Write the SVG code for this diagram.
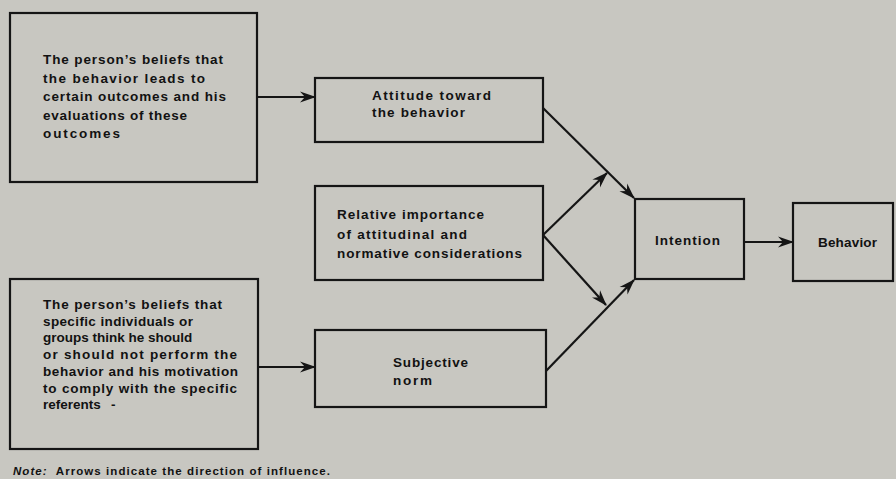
<svg xmlns="http://www.w3.org/2000/svg" width="896" height="479" viewBox="0 0 896 479">
<defs>
<style>
.box{fill:none;stroke:#151515;stroke-width:2.2}
.ln{fill:none;stroke:#151515;stroke-width:2.2}
.t{font-family:"Liberation Sans",Arial,sans-serif;font-weight:bold;font-size:13.5px;fill:#121212}
.note{font-family:"Liberation Sans",Arial,sans-serif;font-weight:bold;font-size:11.5px;fill:#121212}
</style>
<marker id="ah" viewBox="0 0 16 12" refX="15" refY="6" markerWidth="16" markerHeight="12" markerUnits="userSpaceOnUse" orient="auto">
<path d="M0,0.5 L16,6 L0,11.5 L5,6 Z" fill="#151515"/>
</marker>
</defs>
<rect width="896" height="479" fill="#c8c7c1"/>
<g id="beliefs-outcomes">
<rect class="box" x="10" y="13" width="247" height="169"/>
<text class="t" x="43" y="64" textLength="180" lengthAdjust="spacing">The person’s beliefs that</text>
<text class="t" x="43" y="82.5" textLength="162" lengthAdjust="spacing">the behavior leads to</text>
<text class="t" x="43" y="101" textLength="183" lengthAdjust="spacing">certain outcomes and his</text>
<text class="t" x="43" y="119.5" textLength="144" lengthAdjust="spacing">evaluations of these</text>
<text class="t" x="43" y="138" textLength="77" lengthAdjust="spacing">outcomes</text>
</g>
<g id="attitude">
<rect class="box" x="315" y="78" width="228" height="64"/>
<text class="t" x="372" y="100" textLength="119" lengthAdjust="spacing">Attitude toward</text>
<text class="t" x="372" y="117" textLength="93" lengthAdjust="spacing">the behavior</text>
</g>
<g id="relative-importance">
<rect class="box" x="315" y="186" width="228" height="94"/>
<text class="t" x="337" y="219" textLength="147" lengthAdjust="spacing">Relative importance</text>
<text class="t" x="337" y="239" textLength="130" lengthAdjust="spacing">of attitudinal and</text>
<text class="t" x="337" y="258" textLength="185" lengthAdjust="spacing">normative considerations</text>
</g>
<g id="beliefs-referents">
<rect class="box" x="10" y="279" width="248" height="170"/>
<text class="t" x="43" y="309" textLength="179" lengthAdjust="spacing">The person’s beliefs that</text>
<text class="t" x="43" y="325.7" textLength="150" lengthAdjust="spacing">specific individuals or</text>
<text class="t" x="43" y="342.4">groups think he should</text>
<text class="t" x="43" y="359.1" textLength="194" lengthAdjust="spacing">or should not perform the</text>
<text class="t" x="43" y="375.8" textLength="195" lengthAdjust="spacing">behavior and his motivation</text>
<text class="t" x="43" y="392.5" textLength="194" lengthAdjust="spacing">to comply with the specific</text>
<text class="t" x="43" y="409">referents</text>
<text class="t" x="111" y="409">-</text>
</g>
<g id="subjective-norm">
<rect class="box" x="315" y="330" width="231" height="77"/>
<text class="t" x="393" y="367" textLength="75" lengthAdjust="spacing">Subjective</text>
<text class="t" x="393" y="385" textLength="39" lengthAdjust="spacing">norm</text>
</g>
<g id="intention">
<rect class="box" x="635" y="199" width="109" height="80"/>
<text class="t" x="655" y="245" textLength="65" lengthAdjust="spacing">Intention</text>
</g>
<g id="behavior">
<rect class="box" x="793" y="203" width="100" height="78"/>
<text class="t" x="818" y="247" textLength="59" lengthAdjust="spacing">Behavior</text>
</g>
<g id="connectors">
<line class="ln" x1="257" y1="97" x2="315" y2="97" marker-end="url(#ah)"/>
<line class="ln" x1="258" y1="367" x2="315" y2="367" marker-end="url(#ah)"/>
<line class="ln" x1="744" y1="242" x2="793" y2="242" marker-end="url(#ah)"/>
<line class="ln" x1="543" y1="108" x2="634" y2="198" marker-end="url(#ah)"/>
<line class="ln" x1="543" y1="235" x2="607" y2="173" marker-end="url(#ah)"/>
<line class="ln" x1="543" y1="235" x2="606" y2="305" marker-end="url(#ah)"/>
<line class="ln" x1="546" y1="371" x2="634" y2="280" marker-end="url(#ah)"/>
</g>
<text class="note" x="13" y="475" textLength="317" lengthAdjust="spacing" xml:space="preserve"><tspan font-style="italic">Note:</tspan>  Arrows indicate the direction of influence.</text>
</svg>
